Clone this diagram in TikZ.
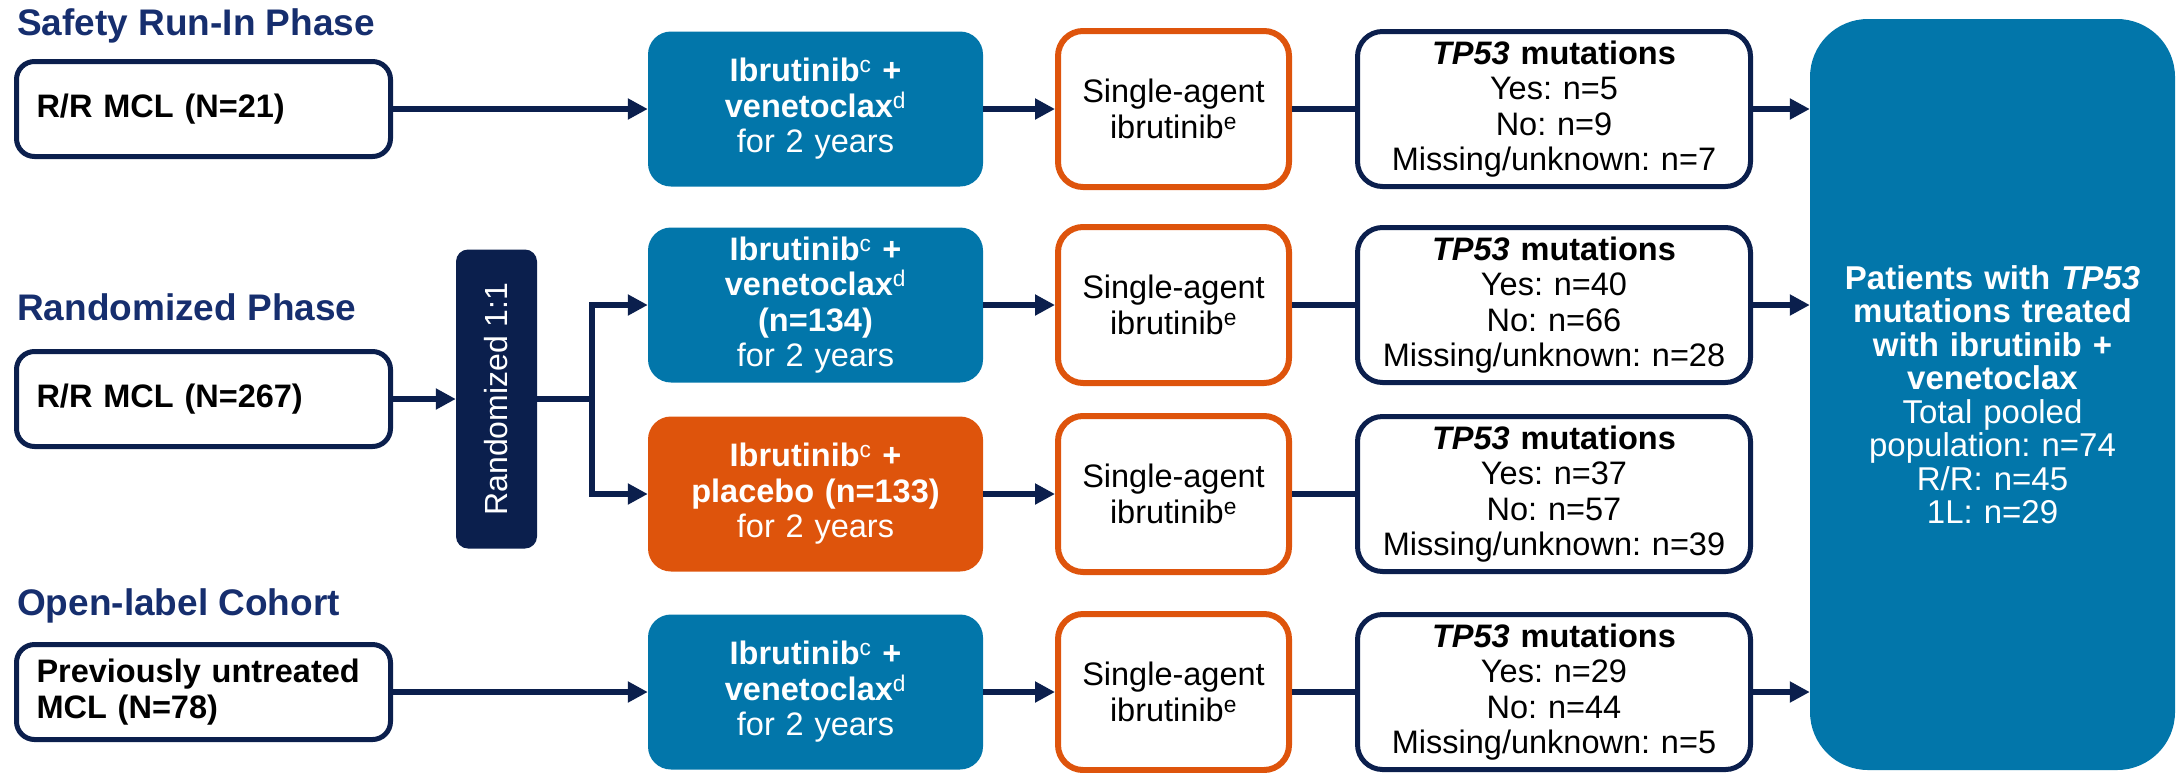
\documentclass[tikz,border=0pt]{standalone}
\usepackage{fontspec}
\setmainfont{Liberation Sans}
\usepackage{graphicx}
\usetikzlibrary{arrows.meta}
\frenchspacing
\definecolor{navy}{RGB}{11,31,77}
\definecolor{phasenavy}{RGB}{22,46,110}
\definecolor{ivblue}{RGB}{2,118,170}
\definecolor{pboorange}{RGB}{222,84,12}
\newcommand{\sz}{\fontsize{32.5}{35.5}\selectfont}
\newcommand{\fn}[1]{\textsuperscript{\mdseries #1}}
\tikzset{
phase/.style={anchor=base west,inner sep=0pt,font=\fontsize{37}{40}\selectfont\bfseries,text=phasenavy},
entry/.style={draw=navy,line width=5pt,rounded corners=18pt,fill=white,minimum width=374pt,minimum height=95pt,
text width=334pt,inner xsep=20pt,inner ysep=0pt,align=left,font=\sz\bfseries},
arm/.style={rounded corners=23pt,minimum width=335pt,minimum height=155pt,text width=315pt,inner sep=0pt,
align=center,font=\sz,text=white},
ivarm/.style={arm,fill=ivblue},
pboarm/.style={arm,fill=pboorange},
mono/.style={draw=pboorange,line width=6pt,rounded corners=25pt,minimum width=231pt,minimum height=156pt,
text width=220pt,inner sep=0pt,align=center,font=\sz},
tpbox/.style={draw=navy,line width=5pt,rounded corners=25pt,minimum width=393pt,minimum height=155pt,
text width=380pt,inner sep=0pt,align=center,font=\sz},
randbox/.style={fill=navy,rounded corners=12pt,minimum width=81pt,minimum height=299pt,inner sep=0pt,
text=white,font=\fontsize{32}{34}\selectfont},
pooled/.style={fill=ivblue,rounded corners=58pt,minimum width=365pt,minimum height=751pt,text width=345pt,
inner sep=0pt,align=center,text=white,font=\fontsize{33}{33.5}\selectfont},
flowarrow/.style={-{Triangle[length=20pt,width=20pt]},line width=5.5pt,navy},
flowline/.style={line width=5.5pt,navy}
}

\begin{document}
\begin{tikzpicture}[x=1pt,y=-1pt]
\useasboundingbox (0,0) rectangle (2178,772);

% study parts
\node[phase] (tsafe) at (17,35) {Safety Run-In Phase};
\node[phase] (trand) at (17,320) {Randomized Phase};
\node[phase] (topen) at (17,615) {Open-label Cohort};

\node[entry] (rr21) at (203.5,109) {R/R MCL (N=21)};
\node[entry] (rr267) at (203.5,399) {R/R MCL (N=267)};
\node[entry] (untx) at (203.5,692) {Previously untreated\\MCL (N=78)};

\node[randbox] (rand) at (496.5,399) {\rotatebox{90}{Randomized 1:1}};

% treatment arms
\node[ivarm] (arm1) at (815.5,109) {\textbf{Ibrutinib\fn{c} +}\\\textbf{venetoclax\fn{d}}\\for 2 years};
\node[ivarm] (arm2) at (815.5,305) {\textbf{Ibrutinib\fn{c} +}\\\textbf{venetoclax\fn{d}}\\\textbf{(n=134)}\\for 2 years};
\node[pboarm] (arm3) at (815.5,494) {\textbf{Ibrutinib\fn{c} +}\\\textbf{placebo (n=133)}\\for 2 years};
\node[ivarm] (arm4) at (815.5,692) {\textbf{Ibrutinib\fn{c} +}\\\textbf{venetoclax\fn{d}}\\for 2 years};

\foreach \i/\y in {1/109,2/305,3/494,4/692}
  \node[mono] (mono\i) at (1173.5,\y) {Single-agent\\ibrutinib\fn{e}};

% TP53 status per arm
\node[tpbox] (tp1) at (1554,109) {\textbf{\textit{TP53} mutations}\\Yes: n=5\\No: n=9\\Missing/unknown: n=7};
\node[tpbox] (tp2) at (1554,305) {\textbf{\textit{TP53} mutations}\\Yes: n=40\\No: n=66\\Missing/unknown: n=28};
\node[tpbox] (tp3) at (1554,494) {\textbf{\textit{TP53} mutations}\\Yes: n=37\\No: n=57\\Missing/unknown: n=39};
\node[tpbox] (tp4) at (1554,692) {\textbf{\textit{TP53} mutations}\\Yes: n=29\\No: n=44\\Missing/unknown: n=5};

\node[pooled] (pool) at (1992.5,394.5) {\textbf{Patients with \textit{TP53}}\\\textbf{mutations treated}\\
\textbf{with ibrutinib +}\\\textbf{venetoclax}\\Total pooled\\population: n=74\\R/R: n=45\\1L: n=29};

% connectors
\draw[flowarrow] (rr21.east) -- (arm1.west);
\draw[flowarrow] (rr267.east) -- (rand.west);
\draw[flowarrow] (untx.east) -- (arm4.west);
\draw[flowarrow] (rand.east) -- ++(55,0) |- (arm2.west);
\draw[flowarrow] (rand.east) -- ++(55,0) |- (arm3.west);
\foreach \i in {1,...,4} {
  \draw[flowarrow] (arm\i.east) -- (mono\i.west);
  \draw[flowline] (mono\i.east) -- (tp\i.west);
}
\foreach \i in {1,2,4}
  \draw[flowarrow] (tp\i.east) -- (tp\i.east -| pool.west);
\end{tikzpicture}
\end{document}
